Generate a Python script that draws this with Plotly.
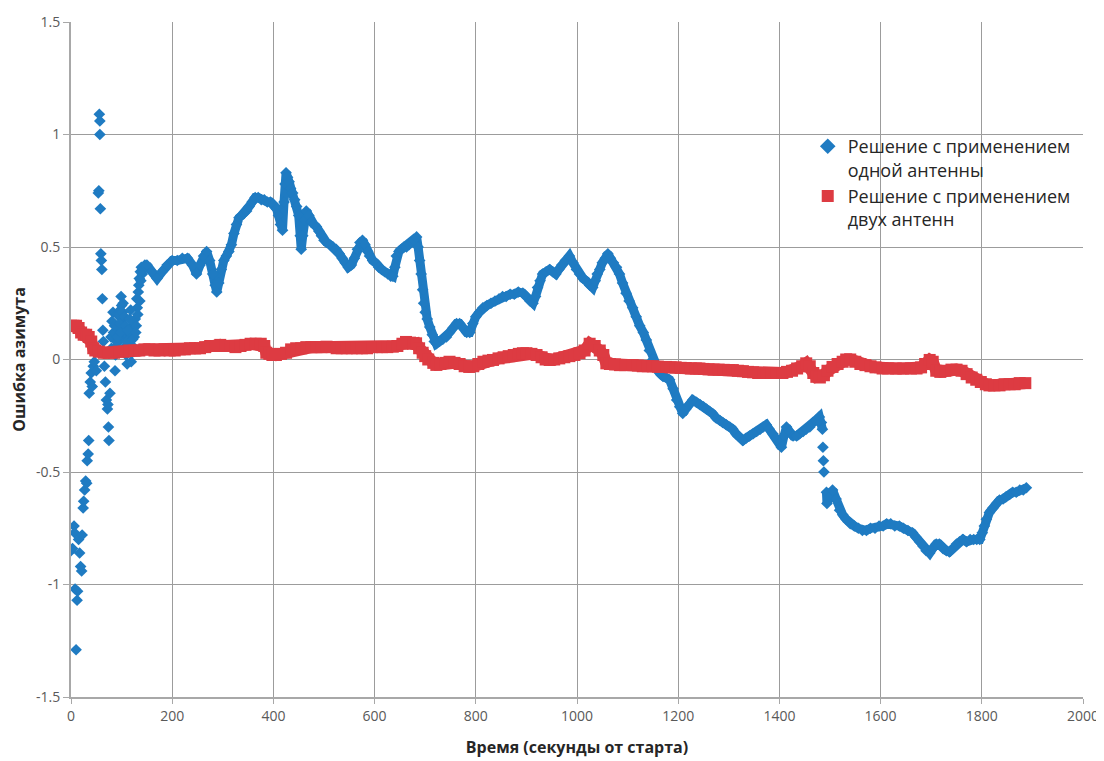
import plotly.graph_objects as go

# ---- Data ----
# Series 1: single-antenna solution (blue diamonds)
blue_t = [
    0, 3, 6, 7, 8, 10, 12, 13, 15, 17, 19, 21, 22, 24, 25, 27, 29, 31, 32, 34,
    35, 36, 38, 40, 42, 44, 46, 48, 50, 52, 54, 55, 56, 57, 57, 58, 59, 60, 61, 62,
    63, 64, 66, 68, 70, 72, 73, 74, 75, 77, 79, 81, 83, 85, 87, 89, 91, 93, 95, 97,
    99, 101, 103, 105, 107, 109, 111, 113, 115, 117, 119, 121, 123, 125, 127, 129, 131, 133, 135, 137,
    139, 141, 143, 146, 149,
    150, 160, 170, 180, 190, 200, 210, 220, 230, 240, 248, 255, 262, 268, 274, 280, 285, 288, 292, 297,
    302, 307, 312, 317, 322, 327, 332, 337, 342, 347, 352, 358, 364, 370, 376, 382, 388, 394, 400, 406,
    410, 414, 418, 421, 423, 425, 428, 431, 434, 438, 442, 446, 450, 453, 455, 458, 461, 465, 470, 475,
    480, 485, 490, 495, 500, 505, 512, 518, 524, 530, 536, 542, 548, 554, 560, 566, 571, 576, 581, 586,
    590, 596, 602, 608, 614, 620, 626, 632, 636, 640, 643, 648, 653, 658, 663, 668, 673, 678, 683, 686,
    689, 692, 695, 697, 700, 704, 709, 714, 718, 722, 728, 735, 742, 748, 755, 762, 768, 775, 782, 788,
    794, 800, 807, 814, 822, 830, 838, 846, 853, 860, 868, 876, 884, 893, 900, 907, 913, 918, 922, 927,
    932, 939, 946, 952, 958, 964, 970, 977, 985, 992, 999, 1005, 1012, 1018, 1025, 1031, 1036, 1040, 1045, 1050,
    1056, 1061, 1066, 1072, 1078, 1084, 1090, 1097, 1103, 1110, 1117, 1124, 1131, 1137, 1143, 1150, 1156, 1163, 1170, 1176,
    1183, 1190, 1197, 1203, 1209, 1215, 1222, 1229, 1236, 1243, 1250, 1256, 1262, 1268, 1275, 1282, 1288, 1295, 1302, 1308,
    1314, 1320, 1328, 1334, 1341, 1348, 1355, 1362, 1368, 1374, 1380, 1387, 1394, 1400, 1404, 1409, 1414, 1420, 1427, 1434,
    1440, 1447, 1453, 1460, 1466, 1472, 1479, 1483, 1485, 1486, 1487, 1488, 1493, 1494, 1499, 1505, 1512, 1519, 1525, 1532,
    1540, 1548, 1556, 1564, 1572, 1580, 1589, 1597, 1605, 1612, 1620, 1628, 1637, 1645, 1654, 1663, 1670, 1677, 1684, 1690,
    1697, 1703, 1710, 1716, 1723, 1730, 1736, 1743, 1750, 1756, 1763, 1770, 1777, 1784, 1790, 1796, 1801, 1805, 1809, 1815,
    1822, 1829, 1835, 1842, 1848, 1855, 1861, 1868, 1875, 1882, 1888,
]
blue_err = [
    -0.85, -0.84, -0.74, -0.77, -1.02, -1.29, -1.07, -1.03, -0.80, -0.86, -0.92, -0.94, -0.78, -0.66, -0.63, -0.58, -0.54, -0.55, -0.45, -0.42,
    -0.36, -0.15, -0.10, -0.06, -0.12, -0.03, -0.01, 0.03, -0.05, 0.05, 0.74, 0.75, 1.09, 1.06, 1.00, 0.67, 0.47, 0.44, 0.40, 0.27,
    0.13, 0.08, -0.03, -0.10, -0.18, -0.22, -0.20, -0.30, -0.36, -0.15, 0.10, 0.17, 0.21, 0.05, -0.05, 0.12, 0.20, 0.14, 0.08, 0.22,
    0.28, 0.18, 0.25, 0.13, 0.10, 0.02, -0.02, 0.06, 0.12, 0.08, -0.01, 0.03, 0.15, 0.10, 0.18, 0.15, 0.23, 0.30, 0.36, 0.39,
    0.41, 0.38, 0.40, 0.42, 0.41,
    0.42, 0.39, 0.36, 0.39, 0.42, 0.44, 0.44, 0.45, 0.45, 0.42, 0.38, 0.42, 0.46, 0.48, 0.44, 0.38, 0.33, 0.30, 0.34, 0.40,
    0.44, 0.46, 0.48, 0.51, 0.56, 0.60, 0.63, 0.64, 0.65, 0.66, 0.68, 0.70, 0.72, 0.72, 0.71, 0.71, 0.70, 0.70, 0.69, 0.67,
    0.64, 0.60, 0.575, 0.70, 0.78, 0.83, 0.81, 0.79, 0.76, 0.74, 0.71, 0.68, 0.64, 0.55, 0.49, 0.55, 0.62, 0.66, 0.64, 0.61,
    0.60, 0.59, 0.57, 0.55, 0.53, 0.52, 0.51, 0.50, 0.49, 0.47, 0.45, 0.43, 0.41, 0.42, 0.45, 0.49, 0.52, 0.53, 0.51, 0.48,
    0.46, 0.44, 0.43, 0.41, 0.40, 0.39, 0.38, 0.37, 0.37, 0.41, 0.46, 0.48, 0.49, 0.50, 0.50, 0.51, 0.52, 0.53, 0.545, 0.50,
    0.44, 0.38, 0.31, 0.25, 0.21, 0.18, 0.145, 0.11, 0.08, 0.07, 0.08, 0.09, 0.10, 0.12, 0.14, 0.16, 0.16, 0.14, 0.12, 0.12,
    0.16, 0.19, 0.21, 0.23, 0.24, 0.25, 0.26, 0.27, 0.28, 0.28, 0.29, 0.29, 0.30, 0.295, 0.28, 0.26, 0.25, 0.28, 0.32, 0.35,
    0.38, 0.39, 0.40, 0.39, 0.38, 0.40, 0.42, 0.44, 0.46, 0.43, 0.40, 0.38, 0.36, 0.35, 0.33, 0.32, 0.35, 0.38, 0.40, 0.43,
    0.45, 0.47, 0.45, 0.43, 0.41, 0.38, 0.34, 0.295, 0.26, 0.23, 0.19, 0.15, 0.12, 0.087, 0.04, 0.0, -0.03, -0.06, -0.075, -0.08,
    -0.09, -0.13, -0.18, -0.21, -0.24, -0.22, -0.20, -0.18, -0.19, -0.20, -0.21, -0.22, -0.23, -0.24, -0.26, -0.27, -0.28, -0.29, -0.30, -0.31,
    -0.33, -0.34, -0.36, -0.35, -0.34, -0.33, -0.32, -0.31, -0.30, -0.29, -0.31, -0.33, -0.35, -0.37, -0.39, -0.34, -0.30, -0.32, -0.34, -0.34,
    -0.33, -0.32, -0.31, -0.30, -0.28, -0.27, -0.255, -0.28, -0.31, -0.39, -0.45, -0.50, -0.59, -0.64, -0.61, -0.58, -0.62, -0.67, -0.69, -0.71,
    -0.73, -0.74, -0.75, -0.76, -0.76, -0.75, -0.75, -0.74, -0.74, -0.73, -0.73, -0.74, -0.74, -0.75, -0.76, -0.77, -0.79, -0.81, -0.83, -0.85,
    -0.86, -0.84, -0.82, -0.82, -0.84, -0.85, -0.855, -0.84, -0.82, -0.81, -0.80, -0.81, -0.80, -0.80, -0.80, -0.80, -0.77, -0.74, -0.71, -0.68,
    -0.66, -0.64, -0.625, -0.62, -0.61, -0.60, -0.59, -0.59, -0.58, -0.58, -0.57,
]
# extra points of the dense early cloud (80..140 s)
blue_cloud_t = [80, 84, 86, 88, 90, 92, 94, 96, 98, 100, 102, 104, 106, 108, 110, 112, 116, 118, 122, 126, 128, 130, 132, 134, 136, 138]
blue_cloud_err = [0.05, 0.12, 0.15, 0.02, 0.08, 0.10, 0.20, 0.16, 0.12, 0.24, 0.21, 0.05, 0.19, 0.15, 0.08, 0.13, 0.18, 0.22, 0.09, 0.05, 0.12, 0.27, 0.20, 0.33, 0.26, 0.35]

# Series 2: two-antenna solution (red squares)
red_t = [
    0, 5, 10, 15, 20, 25, 30, 35, 40, 44, 48, 55, 65, 75, 85, 95, 105, 115, 125, 135,
    145, 155, 165, 175, 185, 195, 205, 215, 225, 235, 245, 255, 265, 275, 285, 295, 305, 315, 325, 335,
    345, 355, 365, 375, 382, 386, 392, 398, 405, 415, 425, 435, 445, 455, 465, 475, 485, 495, 505, 515,
    525, 535, 545, 555, 565, 575, 585, 595, 605, 615, 625, 636, 645, 655, 662, 670, 676, 682, 688, 695,
    700, 706, 716, 722, 730, 740, 748, 758, 768, 778, 787, 795, 805, 815, 825, 834, 845, 855, 865, 875,
    885, 893, 900, 910, 920, 930, 938, 946, 955, 965, 975, 985, 995, 1005, 1015, 1025, 1035, 1045, 1052, 1058,
    1065, 1075, 1085, 1095, 1110, 1120, 1130, 1140, 1150, 1160, 1176, 1185, 1195, 1205, 1215, 1225, 1235, 1242, 1250, 1260,
    1270, 1280, 1290, 1300, 1308, 1318, 1328, 1338, 1348, 1358, 1368, 1374, 1385, 1395, 1406, 1415, 1425, 1435, 1445, 1453,
    1460, 1467, 1473, 1480, 1488, 1495, 1505, 1515, 1525, 1532, 1540, 1550, 1560, 1570, 1580, 1590, 1604, 1615, 1630, 1645,
    1660, 1671, 1680, 1688, 1697, 1703, 1710, 1718, 1728, 1740, 1750, 1760, 1770, 1780, 1789, 1798, 1808, 1815, 1825, 1835,
    1845, 1855, 1865, 1875, 1886,
]
red_err = [
    0.15, 0.15, 0.15, 0.14, 0.12, 0.11, 0.11, 0.10, 0.08, 0.05, 0.04, 0.035, 0.03, 0.03, 0.03, 0.035, 0.035, 0.04, 0.04, 0.04,
    0.045, 0.045, 0.04, 0.04, 0.045, 0.04, 0.04, 0.045, 0.045, 0.05, 0.05, 0.05, 0.055, 0.06, 0.06, 0.065, 0.06, 0.06, 0.055, 0.06,
    0.065, 0.07, 0.07, 0.07, 0.06, 0.03, 0.025, 0.02, 0.02, 0.025, 0.03, 0.045, 0.05, 0.05, 0.055, 0.055, 0.055, 0.055, 0.057, 0.055,
    0.05, 0.05, 0.05, 0.05, 0.05, 0.05, 0.05, 0.055, 0.055, 0.055, 0.055, 0.057, 0.06, 0.07, 0.078, 0.075, 0.07, 0.072, 0.05, 0.03,
    0.015, 0.0, -0.015, -0.024, -0.02, -0.015, -0.01, -0.015, -0.02, -0.03, -0.033, -0.03, -0.02, -0.01, -0.005, -0.002, 0.005, 0.01, 0.015, 0.02,
    0.025, 0.028, 0.028, 0.025, 0.02, 0.01, 0.0, -0.002, 0.0, 0.005, 0.01, 0.015, 0.02, 0.028, 0.04, 0.07, 0.06, 0.04, 0.02, -0.017,
    -0.02, -0.022, -0.025, -0.025, -0.025, -0.027, -0.03, -0.03, -0.03, -0.032, -0.033, -0.035, -0.035, -0.037, -0.038, -0.04, -0.04, -0.04, -0.042, -0.044,
    -0.045, -0.045, -0.046, -0.047, -0.047, -0.05, -0.052, -0.055, -0.057, -0.06, -0.06, -0.06, -0.06, -0.06, -0.06, -0.055, -0.05, -0.04, -0.03, -0.017,
    -0.03, -0.06, -0.077, -0.08, -0.07, -0.05, -0.033, -0.02, -0.01, 0.0, 0.0, -0.01, -0.02, -0.025, -0.03, -0.035, -0.04, -0.04, -0.04, -0.04,
    -0.04, -0.04, -0.035, -0.02, -0.002, -0.01, -0.05, -0.055, -0.05, -0.045, -0.045, -0.05, -0.065, -0.08, -0.09, -0.10, -0.11, -0.115, -0.115, -0.115,
    -0.11, -0.11, -0.11, -0.105, -0.105,
]

series_names = [
    "Решение с применением<br>одной антенны",
    "Решение с применением<br>двух антенн",
]
x_ticks = [0, 200, 400, 600, 800, 1000, 1200, 1400, 1600, 1800, 2000]
y_ticks = [-1.5, -1, -0.5, 0, 0.5, 1, 1.5]
y_tick_labels = ["-1.5", "-1", "-0.5", "0", "0.5", "1", "1.5"]
x_title = "Время (секунды от старта)"
y_title = "Ошибка азимута"

FONT = "Open Sans"
BLUE = "#1f7bc2"
RED = "#dd3b42"

# dense parts of the blue series where the markers merge into a band
i_a = blue_t.index(150)
i_b = blue_t.index(1485)
i_c = blue_t.index(1493)
segments = [(i_a, i_b + 1), (i_c, len(blue_t))]

fig = go.Figure()
for s, e in segments:
    fig.add_trace(go.Scatter(
        x=blue_t[s:e], y=blue_err[s:e], mode="lines", showlegend=False,
        line=dict(color=BLUE, width=9), hoverinfo="skip",
    ))
fig.add_trace(go.Scatter(
    x=blue_t + blue_cloud_t, y=blue_err + blue_cloud_err, mode="markers", name=series_names[0],
    marker=dict(symbol="diamond", size=9, color=BLUE, line=dict(width=0)),
))
fig.add_trace(go.Scatter(
    x=red_t, y=red_err, mode="lines", showlegend=False,
    line=dict(color=RED, width=12), hoverinfo="skip",
))
fig.add_trace(go.Scatter(
    x=red_t, y=red_err, mode="markers", name=series_names[1],
    marker=dict(symbol="square", size=12, color=RED, line=dict(width=0)),
))

# the page body adds an 8 px offset; the figure is sized so the plot lands where it should
fig.update_layout(
    width=1096, height=753,
    margin=dict(l=63, r=21, t=14, b=64, autoexpand=False),
    paper_bgcolor="white", plot_bgcolor="white",
    font=dict(family=FONT, color="#595959", size=14),
    showlegend=True,
    legend=dict(
        x=0.728, y=0.843, xanchor="left", yanchor="top",
        bgcolor="rgba(0,0,0,0)", borderwidth=0,
        font=dict(family=FONT, size=18, color="#262626"),
        valign="top", itemsizing="constant",
    ),
    xaxis=dict(
        range=[0, 2000], tickvals=x_ticks, ticktext=[str(v) for v in x_ticks],
        showgrid=True, gridcolor="#9c9c9c", gridwidth=1,
        showline=True, linecolor="#a8a8a8", linewidth=2, mirror=False,
        ticks="outside", ticklen=5, tickcolor="#a8a8a8",
        zeroline=False, automargin=False,
        tickfont=dict(family=FONT, size=14, color="#595959"),
        title=dict(text="<b>" + x_title + "</b>", font=dict(family=FONT, size=16, color="#262626"), standoff=18),
    ),
    yaxis=dict(
        range=[-1.5, 1.5], tickvals=y_ticks, ticktext=y_tick_labels,
        showgrid=True, gridcolor="#9c9c9c", gridwidth=1,
        showline=True, linecolor="#a8a8a8", linewidth=2, mirror=False,
        ticks="outside", ticklen=6, tickcolor="#a8a8a8",
        zeroline=False, automargin=False,
        tickfont=dict(family=FONT, size=14, color="#595959"),
        title=dict(text="<b>" + y_title + "</b>", font=dict(family=FONT, size=16, color="#262626"), standoff=6),
    ),
)

fig.write_html("out.html")
